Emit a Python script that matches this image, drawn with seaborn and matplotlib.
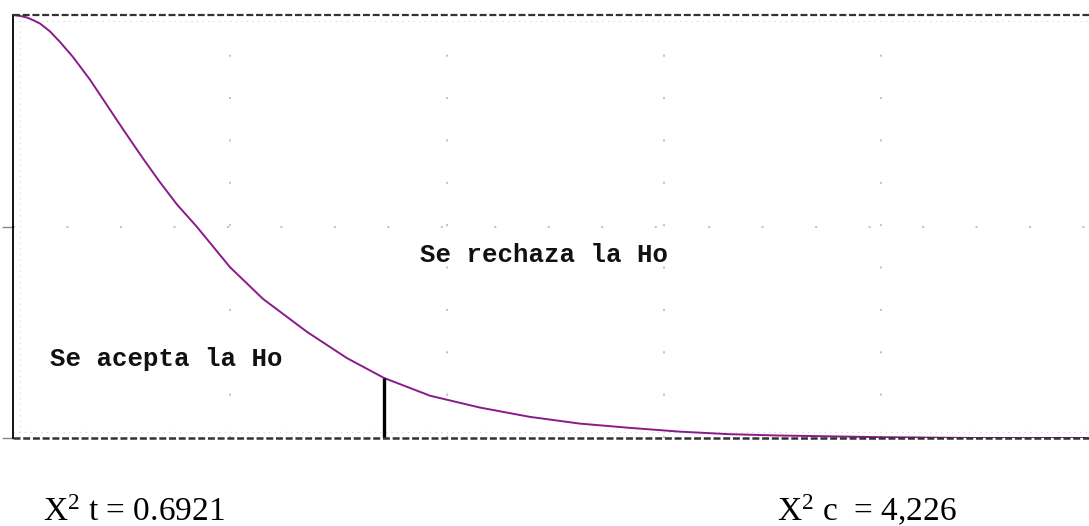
import numpy as np
import pandas as pd
import matplotlib
matplotlib.use("Agg")
import matplotlib.pyplot as plt
import seaborn as sns

# ---- data ----
curve_x = [0.000, 0.032, 0.065, 0.092, 0.124, 0.171, 0.217, 0.276, 0.355, 0.433,
           0.507, 0.599, 0.677, 0.756, 0.848, 1.000, 1.152, 1.355, 1.539, 1.710,
           1.922, 2.152, 2.382, 2.613, 2.843, 3.074, 3.304, 3.521, 3.995, 4.433,
           4.960]
curve_y = [1.000, 0.998, 0.994, 0.988, 0.980, 0.961, 0.936, 0.901, 0.847, 0.787,
           0.730, 0.661, 0.605, 0.552, 0.499, 0.404, 0.329, 0.251, 0.189, 0.142,
           0.100, 0.072, 0.050, 0.034, 0.024, 0.015, 0.009, 0.006, 0.002, 0.000,
           0.000]
critical_x = 1.710
critical_y = 0.142
grid_x = [1, 2, 3, 4]
grid_y = [0.5]
label_accept = "Se acepta la Ho"
label_reject = "Se rechaza la Ho"
stat_table = "X$^{2}$ t = 0.6921"
stat_calc = "X$^{2}$ c  = 4,226"

sns.set_theme(style="white")
plt.rcParams["font.family"] = ["Liberation Serif", "DejaVu Serif"]
plt.rcParams["mathtext.fontset"] = "custom"
plt.rcParams["mathtext.rm"] = "Liberation Serif"
plt.rcParams["mathtext.it"] = "Liberation Serif"
plt.rcParams["lines.scale_dashes"] = False

fig = plt.figure(figsize=(10.89, 5.26), dpi=100)
ax = fig.add_axes([13 / 1089, (526 - 438) / 526, 1 - 13 / 1089, 423 / 526])

df = pd.DataFrame({"x": curve_x, "y": curve_y})

# sparse dotted grid
for gx in grid_x:
    ax.axvline(gx, color="#b8b8b8", lw=1.2, ls=(0, (1.5, 29)), zorder=0)
for gy in grid_y:
    ax.axhline(gy, color="#b8b8b8", lw=1.2, ls=(0, (1.5, 37)), zorder=0)
# faint inner dotted frame
ax.axvline(0.03, color="#dddddd", lw=0.8, ls=(0, (1, 3)), zorder=0)
ax.axhline(0.985, color="#dddddd", lw=0.8, ls=(0, (1, 3)), zorder=0)
ax.axhline(0.015, color="#e8d0e8", lw=0.8, ls=(0, (1, 3)), zorder=0)

sns.lineplot(data=df, x="x", y="y", ax=ax, color="#8a1a8a", lw=1.4,
             estimator=None, sort=False, zorder=3)

ax.vlines(critical_x, 0, critical_y, color="black", lw=2.4, zorder=4)

ax.set_xlim(0, 4.96)
ax.set_ylim(0, 1)
ax.set_xlabel("")
ax.set_ylabel("")
ax.set_xticks([])
ax.set_yticks([0, 0.5])
ax.set_yticklabels([])
ax.tick_params(axis="y", left=True, length=8, width=1, color="#888888", direction="out")

for s in ["top", "bottom", "right"]:
    ax.spines[s].set_visible(False)
ax.spines["left"].set_color("black")
ax.spines["left"].set_linewidth(1.3)

# dashed top and bottom borders
ax.axhline(1.0, color="#333333", lw=1.6, ls=(0, (5, 2)), clip_on=False, zorder=5)
ax.axhline(0.0, color="#333333", lw=1.8, ls=(0, (5, 2)), clip_on=False, zorder=5)

mono = ["Liberation Mono", "DejaVu Sans Mono"]
ax.text(1.876, 0.433, label_reject, family=mono, fontweight="bold",
        fontsize=18.5, color="#111111", ha="left", va="center")
ax.text(0.17, 0.187, label_accept, family=mono, fontweight="bold",
        fontsize=18.5, color="#111111", ha="left", va="center")

fig.text(43 / 1089, 5 / 526, stat_table, fontsize=24, color="black",
         ha="left", va="baseline")
fig.text(777 / 1089, 5 / 526, stat_calc, fontsize=24, color="black",
         ha="left", va="baseline")

fig.savefig("out.png", dpi=100)
